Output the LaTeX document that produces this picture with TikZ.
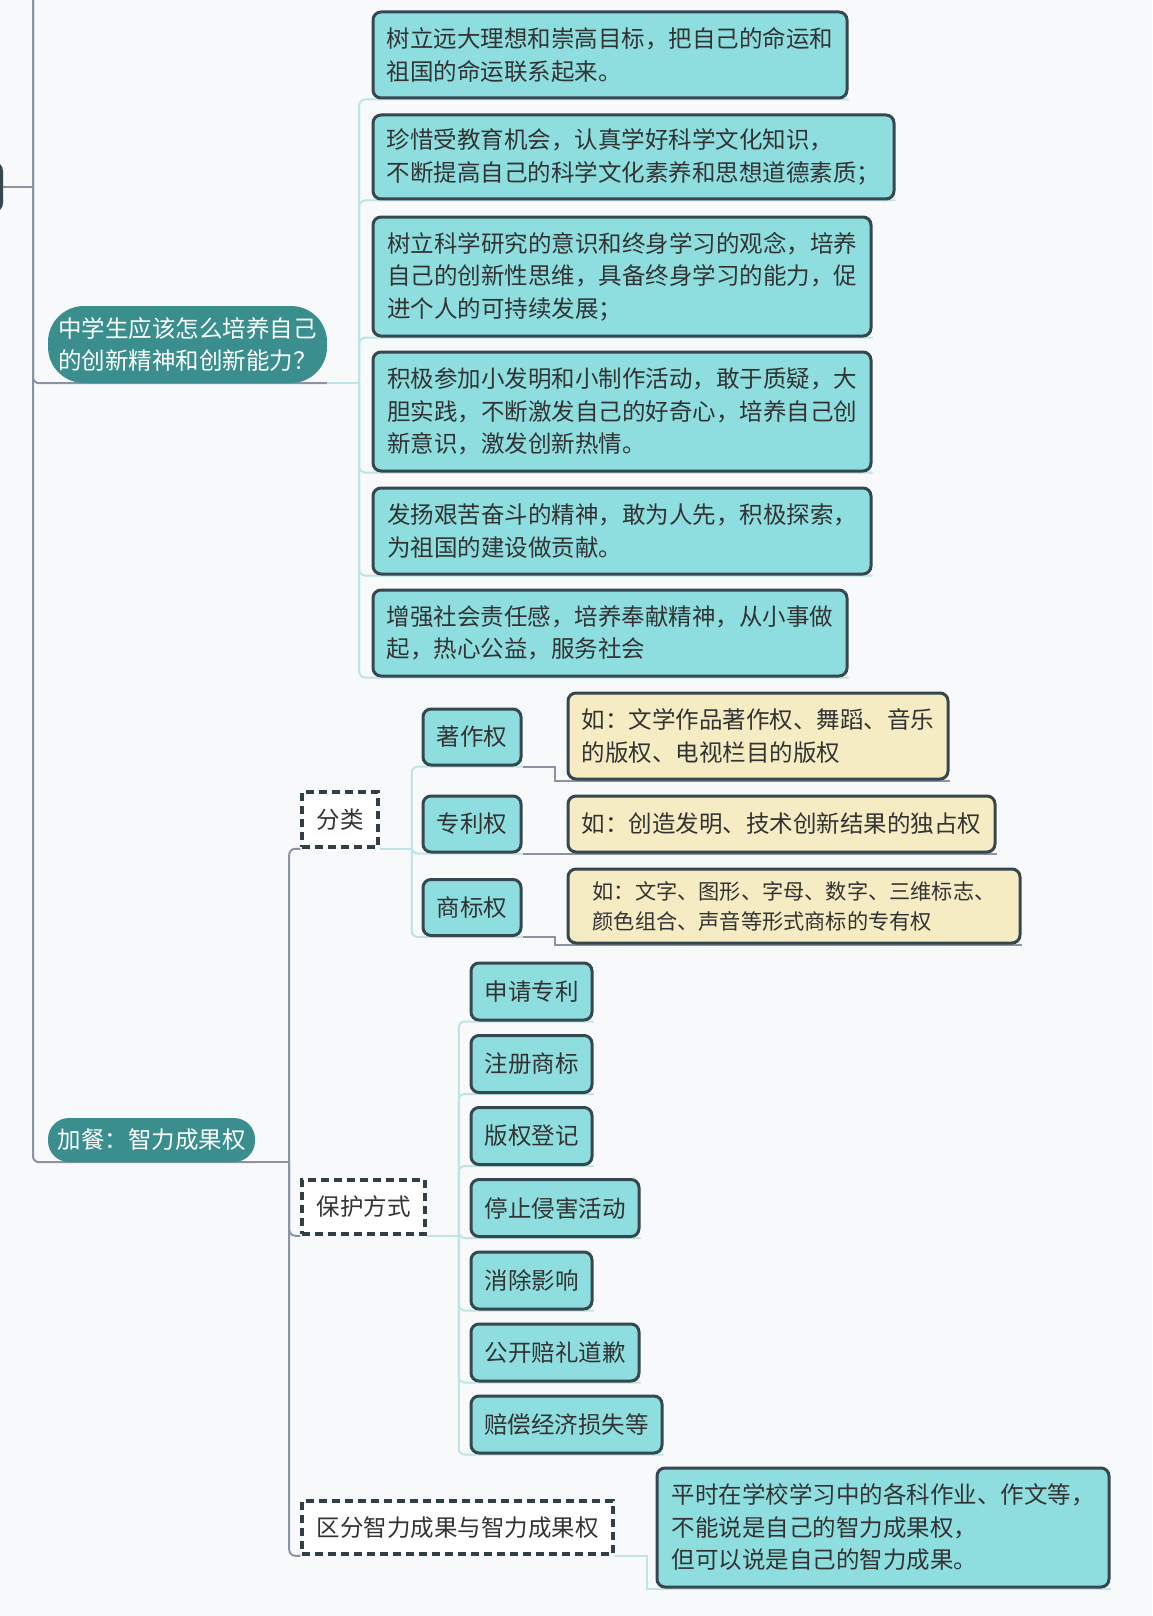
\documentclass[tikz,border=0pt]{standalone}
\usepackage{fontspec}
\newfontfamily\cjk{Noto Sans CJK SC}
\usetikzlibrary{backgrounds}
\definecolor{mmpaper}{HTML}{F8F9FA}
\definecolor{mmcyan}{HTML}{8FDEDF}
\definecolor{mmedge}{HTML}{37474F}
\definecolor{mmteal}{HTML}{3A8E8E}
\definecolor{mmcream}{HTML}{F6ECC3}
\definecolor{mmgray}{HTML}{8B93A3}
\definecolor{mmlight}{HTML}{BDE5E5}
\definecolor{mmtext}{HTML}{333333}

\begin{document}
\begin{tikzpicture}[
  x=1pt, y=-1pt,
  every node/.style={font=\cjk\fontsize{23.5}{32.5}\selectfont, text=mmtext, align=left, inner sep=0pt},
  tbox/.style={rectangle, rounded corners=8pt, draw=mmedge, fill=mmcyan, line width=3pt},
  ybox/.style={tbox, fill=mmcream},
  pill/.style={rectangle, rounded corners=21pt, fill=mmteal, text=white},
  dbox/.style={rectangle, draw=mmedge!90!black, fill=white, line width=3.5pt, dash pattern=on 8pt off 5pt},
  gline/.style={draw=mmgray, line width=2pt, rounded corners=6pt},
  lline/.style={draw=mmlight, line width=2pt, rounded corners=6pt},
]
\useasboundingbox (0,0) rectangle (1152,1616);
\begin{scope}[on background layer]
\fill[mmpaper] (0,0) rectangle (1152,1616);
\end{scope}

% Parent node, cut off at the left edge
\node[tbox, minimum width=120pt, minimum height=48pt] (root) at (-58.5,187) {};

% Question branch
\node[pill, rounded corners=36pt, minimum width=279pt, minimum height=77pt] (q1) at (187.5,344.5) {中学生应该怎么培养自己\\的创新精神和创新能力？};
\node[tbox, minimum width=474pt, minimum height=86pt] (b1) at (610,55) {树立远大理想和崇高目标，把自己的命运和\\祖国的命运联系起来。};
\node[tbox, minimum width=521pt, minimum height=84pt] (b2) at (633.5,157) {珍惜受教育机会，认真学好科学文化知识，\\不断提高自己的科学文化素养和思想道德素质；};
\node[tbox, minimum width=498pt, minimum height=119pt] (b3) at (622,276.5) {树立科学研究的意识和终身学习的观念，培养\\自己的创新性思维，具备终身学习的能力，促\\进个人的可持续发展；};
\node[tbox, minimum width=498pt, minimum height=119pt] (b4) at (622,411.5) {积极参加小发明和小制作活动，敢于质疑，大\\胆实践，不断激发自己的好奇心，培养自己创\\新意识，激发创新热情。};
\node[tbox, minimum width=498pt, minimum height=86pt] (b5) at (622,531) {发扬艰苦奋斗的精神，敢为人先，积极探索，\\为祖国的建设做贡献。};
\node[tbox, minimum width=474pt, minimum height=86pt] (b6) at (610,633) {增强社会责任感，培养奉献精神，从小事做\\起，热心公益，服务社会};

% Extra branch
\node[pill, minimum width=207pt, minimum height=44pt] (q2) at (151.5,1140) {加餐：智力成果权};
\node[dbox, minimum width=76pt, minimum height=55pt] (c1) at (340,819.5) {分类};
\node[dbox, minimum width=123pt, minimum height=54pt] (c2) at (363.5,1207) {保护方式};
\node[dbox, minimum width=311pt, minimum height=53pt] (c3) at (457.5,1527.5) {区分智力成果与智力成果权};

% Kinds
\node[tbox, minimum width=98pt, minimum height=56pt] (k1) at (472,737) {著作权};
\node[tbox, minimum width=98pt, minimum height=56pt] (k2) at (472,824) {专利权};
\node[tbox, minimum width=98pt, minimum height=56pt] (k3) at (472,907.5) {商标权};
\node[ybox, minimum width=380pt, minimum height=86pt] (y1) at (758,736) {如：文学作品著作权、舞蹈、音乐\\的版权、电视栏目的版权};
\node[ybox, minimum width=427pt, minimum height=56pt] (y2) at (781.5,824) {如：创造发明、技术创新结果的独占权};
\node[ybox, minimum width=452pt, minimum height=74pt, font=\cjk\fontsize{21.2}{30}\selectfont] (y3) at (794,906) {如：文字、图形、字母、数字、三维标志、\\颜色组合、声音等形式商标的专有权};

% Protection
\node[tbox, minimum width=121pt, minimum height=57pt] (p1) at (531.5,991.5) {申请专利};
\node[tbox, minimum width=121pt, minimum height=57pt] (p2) at (531.5,1064) {注册商标};
\node[tbox, minimum width=121pt, minimum height=57pt] (p3) at (531.5,1136) {版权登记};
\node[tbox, minimum width=168pt, minimum height=57pt] (p4) at (555,1208) {停止侵害活动};
\node[tbox, minimum width=121pt, minimum height=57pt] (p5) at (531.5,1280.5) {消除影响};
\node[tbox, minimum width=168pt, minimum height=57pt] (p6) at (555,1352.5) {公开赔礼道歉};
\node[tbox, minimum width=191pt, minimum height=57pt] (p7) at (566.5,1424.5) {赔偿经济损失等};

% Distinction
\node[tbox, minimum width=452pt, minimum height=119pt] (d1) at (883,1527.5) {平时在学校学习中的各科作业、作文等，\\不能说是自己的智力成果权，\\但可以说是自己的智力成果。};

% Connections
\begin{scope}[on background layer]
\coordinate (top) at (33,0);
\draw[gline] (root.east) -- (root.east -| top);
\draw[gline] (top) |- (q1.south east);
\draw[gline] (top) |- (q2.south east);
\draw[lline] (q1.south east) -- ++(32,0) coordinate (j1);
\foreach \i in {1,...,6} \draw[lline] (j1) |- (b\i.south east);
\draw[gline] (q2.south east) -- ++(34,0) coordinate (j2);
\foreach \i in {1,2,3} \draw[gline] (j2) |- (c\i.south west);
\draw[lline] (c1.south east) -- ++(32,0) coordinate (j3);
\foreach \i in {1,2,3} \draw[lline] (j3) |- (k\i.south east);
\foreach \i in {1,2,3} \draw[gline, rounded corners=0pt] (k\i.south east) -- ++(32,0) |- (y\i.south east);
\draw[lline] (c2.south east) -- ++(32,0) coordinate (j4);
\foreach \i in {1,...,7} \draw[lline] (j4) |- (p\i.south east);
\draw[lline, rounded corners=0pt] (c3.south east) -- ++(32,0) |- (d1.south east);
\end{scope}

\end{tikzpicture}
\end{document}
